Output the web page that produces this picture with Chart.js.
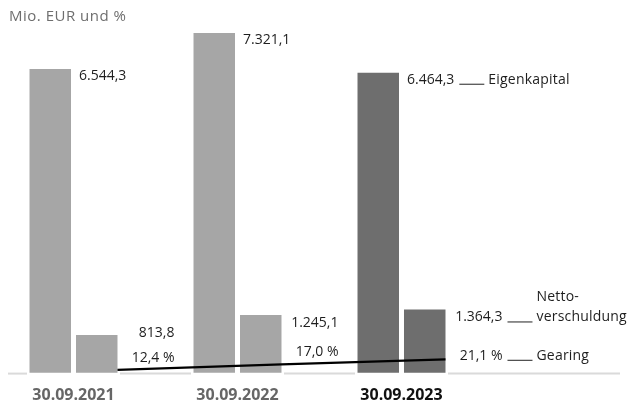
<!DOCTYPE html>
<html>
<head>
<meta charset="utf-8">
<script src="https://cdn.jsdelivr.net/npm/chart.js@4"></script>
<style>
  html, body { margin: 0; padding: 0; background: #fff; }
  #wrap { width: 631px; height: 403px; }
</style>
</head>
<body>
<div id="wrap"><canvas id="chart"></canvas></div>
<script>
const categories = ['30.09.2021', '30.09.2022', '30.09.2023'];
const eigenkapital = [6544.3, 7321.1, 6464.3];
const nettoverschuldung = [813.8, 1245.1, 1364.3];
const gearing = [12.4, 17.0, 21.1];
const unitLabel = 'Mio. EUR und %';
const keyEigen = ['Eigenkapital'];
const keyNetto = ['Netto-', 'verschuldung'];
const keyGearing = ['Gearing'];

// german number format, one decimal
function fmt(v) {
  const [i, d] = v.toFixed(1).split('.');
  return i.replace(/\B(?=(\d{3})+(?!\d))/g, '.') + ',' + d;
}

function drawKey(ctx, x, y, lines) {
  ctx.save();
  ctx.strokeStyle = '#222';
  ctx.lineWidth = 1;
  ctx.beginPath();
  ctx.moveTo(x + 5, y + 0.5);
  ctx.lineTo(x + 30, y + 0.5);
  ctx.stroke();
  ctx.textAlign = 'left';
  ctx.letterSpacing = '0.2px';
  lines.forEach((t, k) => {
    ctx.fillText(t, x + 34, y - (lines.length - 1 - k) * 20);
  });
  ctx.restore();
}

// gearing line starts at the right edge of the net debt bars
function lineShift(chart) {
  const nv = chart.getDatasetMeta(1).data;
  const pts = chart.getDatasetMeta(2).data;
  return nv[0].x + nv[0].width / 2 - pts[0].x;
}

const annotate = {
  id: 'annotate',
  beforeDatasetsDraw(chart) {
    const { ctx, chartArea } = chart;
    const ek = chart.getDatasetMeta(0).data;
    const nv = chart.getDatasetMeta(1).data;
    const y = chartArea.bottom + 0.8;
    ctx.save();
    ctx.strokeStyle = '#dadada';
    ctx.lineWidth = 2;
    let x = 8;
    ek.forEach((b, i) => {
      const l = b.x - b.width / 2 - 2.5;
      ctx.beginPath(); ctx.moveTo(x, y); ctx.lineTo(l, y); ctx.stroke();
      x = nv[i].x + nv[i].width / 2 + 2.5;
    });
    ctx.beginPath(); ctx.moveTo(x, y); ctx.lineTo(620, y); ctx.stroke();
    ctx.restore();
  },
  beforeDatasetDraw(chart, args) {
    if (args.index !== 2) return;
    chart.ctx.save();
    chart.ctx.translate(lineShift(chart), 0);
  },
  afterDatasetDraw(chart, args) {
    if (args.index !== 2) return;
    chart.ctx.restore();
  },
  afterDatasetsDraw(chart) {
    const { ctx } = chart;
    const ek = chart.getDatasetMeta(0).data;
    const nv = chart.getDatasetMeta(1).data;
    const dx = lineShift(chart);
    const pts = chart.getDatasetMeta(2).data.map(p => ({ x: p.x + dx, y: p.y }));
    const last = ek.length - 1;

    const lineYAt = (x) => {
      for (let i = 0; i < pts.length - 1; i++) {
        if (x <= pts[i + 1].x) {
          const t = (x - pts[i].x) / (pts[i + 1].x - pts[i].x);
          return pts[i].y + t * (pts[i + 1].y - pts[i].y);
        }
      }
      return pts[pts.length - 1].y;
    };

    ctx.save();
    ctx.font = '15px "Open Sans"';
    ctx.letterSpacing = '0.5px';
    ctx.fillStyle = '#6e6e6e';
    ctx.textAlign = 'left';
    ctx.textBaseline = 'alphabetic';
    ctx.fillText(unitLabel, 9, 21);
    ctx.letterSpacing = '0px';

    ctx.font = '14px "Open Sans"';
    ctx.fillStyle = '#1e1e1e';

    ek.forEach((b, i) => {
      const x = b.x + b.width / 2 + 8;
      const y = b.y + 11;
      const txt = fmt(eigenkapital[i]);
      ctx.textAlign = 'left';
      ctx.fillText(txt, x, y);
      if (i === last) drawKey(ctx, x + ctx.measureText(txt).width, y, keyEigen);
    });

    nv.forEach((b, i) => {
      const right = b.x + b.width / 2 + 57;
      const gy = i < last ? lineYAt(right - 24) - 7 : pts[i].y + 0.5;
      const ny = Math.min(b.y + 12, gy - 25);
      ctx.textAlign = 'right';
      ctx.fillText(fmt(nettoverschuldung[i]), right, ny);
      ctx.fillText(fmt(gearing[i]) + ' %', right, gy);
      if (i === last) {
        drawKey(ctx, right, ny, keyNetto);
        drawKey(ctx, right, gy, keyGearing);
      }
    });
    ctx.restore();
  }
};

Chart.defaults.font.family = '"Open Sans", sans-serif';

new Chart(document.getElementById('chart'), {
  type: 'bar',
  data: {
    labels: categories,
    datasets: [
      {
        label: 'Eigenkapital',
        data: eigenkapital,
        backgroundColor: ['#a6a6a6', '#a6a6a6', '#6e6e6e'],
        barPercentage: 0.8925,
        categoryPercentage: 0.567,
        order: 1,
        clip: false
      },
      {
        label: 'Nettoverschuldung',
        data: nettoverschuldung,
        backgroundColor: ['#a6a6a6', '#a6a6a6', '#6e6e6e'],
        barPercentage: 0.8925,
        categoryPercentage: 0.567,
        order: 1,
        clip: false
      },
      {
        type: 'line',
        label: 'Gearing',
        data: gearing,
        yAxisID: 'y2',
        borderColor: '#000',
        borderWidth: 2.2,
        pointRadius: 0,
        tension: 0,
        order: 0,
        clip: false
      }
    ]
  },
  options: {
    responsive: true,
    maintainAspectRatio: false,
    animation: false,
    layout: { padding: { left: 73.5, right: 229.5, top: 20, bottom: -15 } },
    plugins: { legend: { display: false }, tooltip: { enabled: false } },
    scales: {
      x: {
        type: 'category',
        offset: false,
        grid: { display: false, drawTicks: false },
        border: { display: false },
        ticks: {
          padding: 13,
          maxRotation: 0,
          autoSkip: false,
          font: { size: 16, weight: 'bold' },
          color: (c) => (c.index === 2 ? '#111' : '#666')
        }
      },
      y: { display: false, min: 0, max: 7600 },
      y2: { display: false, min: 10, max: 300 }
    }
  },
  plugins: [annotate]
});
</script>
</body>
</html>
